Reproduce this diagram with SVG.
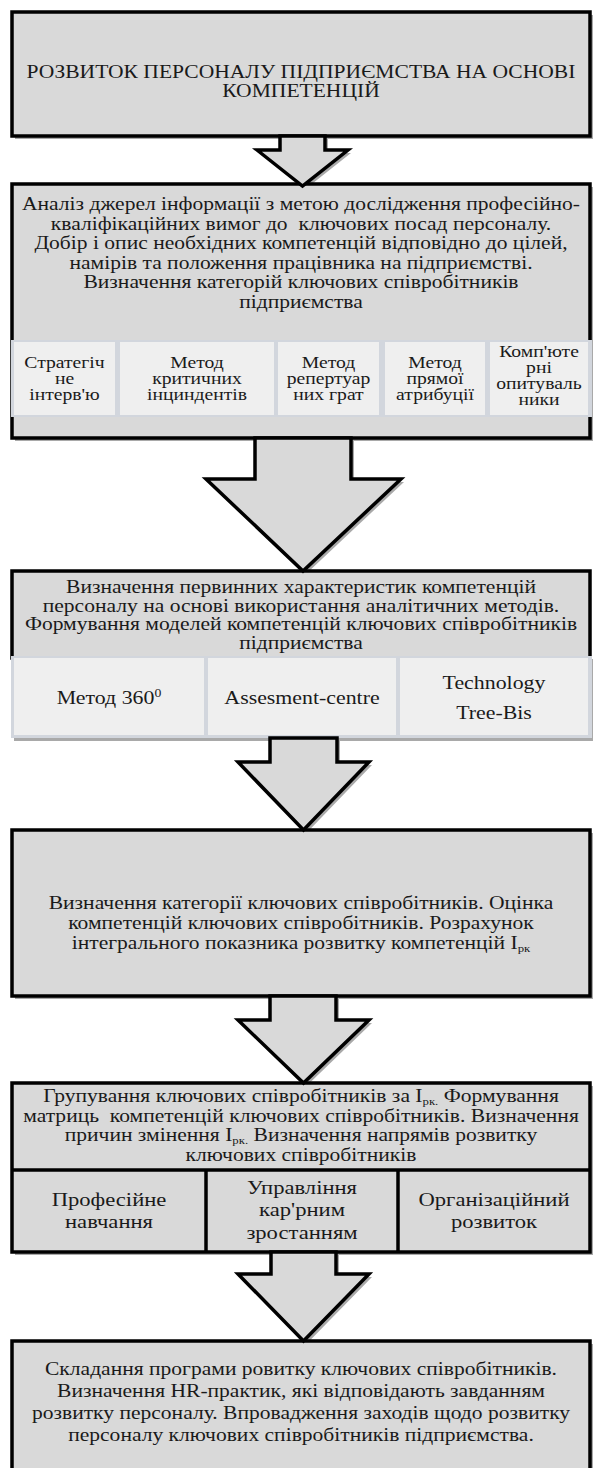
<svg xmlns="http://www.w3.org/2000/svg" width="593" height="1468" viewBox="0 0 593 1468">
<style>
.box{fill:#d9d9d9;stroke:#000;stroke-width:3.5}
.sh{fill:#8c8c8c;opacity:.75}
.t{font-family:"Liberation Serif","Times New Roman",serif;font-size:18.5px;fill:#1a1a1a;text-anchor:middle}
.c{font-size:16.5px}
.m{font-size:19px}
.k{font-size:19.5px}
.sub{font-size:11px}
.row{fill:#d2d6dd}
.cell{fill:#efefef}
.arr{fill:#d9d9d9;stroke:#000;stroke-width:3.5;stroke-linejoin:miter}
.div{stroke:#000;stroke-width:3.5}
</style>
<rect width="593" height="1468" fill="#fff"/>

<g id="shadows">
<rect class="sh" x="15" y="15" width="578" height="124"/>
<rect class="sh" x="15" y="187" width="578" height="254"/>
<rect class="sh" x="14" y="659" width="579" height="82"/>
<rect class="sh" x="15" y="833" width="578" height="166"/>
<rect class="sh" x="15" y="1086" width="578" height="169"/>
<rect class="sh" x="15" y="1344" width="578" height="140"/>
<polygon class="sh" points="283,139 328,139 328,153 351,153 305.5,189 260,153 283,153"/>
<polygon class="sh" points="258,441 354,441 354,482 404,482 306,574 209,482 258,482"/>
<polygon class="sh" points="273,741 340,741 340,765 372,765 306.5,833 241,765 273,765"/>
<polygon class="sh" points="273,999 339,999 339,1023 372,1023 306.5,1086 241,1023 273,1023"/>
<polygon class="sh" points="274,1255 339,1255 339,1277 372,1277 306.5,1344 241,1277 274,1277"/>
</g>

<g id="node1">
<rect class="box" x="12" y="12" width="578" height="124"/>
<text class="t" transform="translate(301,78) scale(1.165,1)">РОЗВИТОК ПЕРСОНАЛУ ПІДПРИЄМСТВА НА ОСНОВІ</text>
<text class="t" transform="translate(301,97) scale(1.165,1)">КОМПЕТЕНЦІЙ</text>
</g>

<g id="node2">
<rect class="box" x="12" y="184" width="578" height="254"/>
<text class="t" transform="translate(301,210) scale(1.165,1)">Аналіз джерел інформації з метою дослідження професійно-</text>
<text class="t" transform="translate(301,229.5) scale(1.165,1)">кваліфікаційних вимог до&#160; ключових посад персоналу.</text>
<text class="t" transform="translate(301,249) scale(1.165,1)">Добір і опис необхідних компетенцій відповідно до цілей,</text>
<text class="t" transform="translate(301,268.5) scale(1.165,1)">намірів та положення працівника на підприємстві.</text>
<text class="t" transform="translate(301,288) scale(1.165,1)">Визначення категорій ключових співробітників</text>
<text class="t" transform="translate(301,307.5) scale(1.165,1)">підприємства</text>
<rect class="row" x="11" y="340" width="581" height="77"/>
<g id="node2-cells">
<rect class="cell" x="14" y="342" width="101" height="73"/>
<rect class="cell" x="120" y="342" width="154" height="73"/>
<rect class="cell" x="278" y="342" width="101" height="73"/>
<rect class="cell" x="385" y="342" width="100" height="73"/>
<rect class="cell" x="490" y="342" width="98" height="73"/>
<text class="t c" transform="translate(64.5,368) scale(1.19,1)">Стратегіч</text>
<text class="t c" transform="translate(64.5,384) scale(1.19,1)">не</text>
<text class="t c" transform="translate(64.5,400) scale(1.19,1)">інтерв'ю</text>
<text class="t c" transform="translate(197,368) scale(1.19,1)">Метод</text>
<text class="t c" transform="translate(197,384) scale(1.19,1)">критичних</text>
<text class="t c" transform="translate(197,400) scale(1.19,1)">інциндентів</text>
<text class="t c" transform="translate(328.5,368) scale(1.19,1)">Метод</text>
<text class="t c" transform="translate(328.5,384) scale(1.19,1)">репертуар</text>
<text class="t c" transform="translate(328.5,400) scale(1.19,1)">них грат</text>
<text class="t c" transform="translate(435,368) scale(1.19,1)">Метод</text>
<text class="t c" transform="translate(435,384) scale(1.19,1)">прямої</text>
<text class="t c" transform="translate(435,400) scale(1.19,1)">атрибуції</text>
<text class="t c" transform="translate(539,357) scale(1.19,1)">Комп'юте</text>
<text class="t c" transform="translate(539,373) scale(1.19,1)">рні</text>
<text class="t c" transform="translate(539,389) scale(1.19,1)">опитуваль</text>
<text class="t c" transform="translate(539,405) scale(1.19,1)">ники</text>
</g>
</g>

<g id="node3">
<rect class="box" x="12" y="571" width="578" height="87"/>
<text class="t" transform="translate(301,593) scale(1.165,1)">Визначення первинних характеристик компетенцій</text>
<text class="t" transform="translate(301,611.5) scale(1.165,1)">персоналу на основі використання аналітичних методів.</text>
<text class="t" transform="translate(301,630) scale(1.165,1)">Формування моделей компетенцій ключових співробітників</text>
<text class="t" transform="translate(301,648.5) scale(1.165,1)">підприємства</text>
<rect class="row" x="11" y="656" width="581" height="82"/>
<g id="node3-cells">
<rect class="cell" x="14" y="658" width="190" height="77"/>
<rect class="cell" x="208" y="658" width="188" height="77"/>
<rect class="cell" x="400" y="658" width="188" height="77"/>
<text class="t m" transform="translate(109,704) scale(1.15,1)">Метод 360<tspan font-size="12" dy="-7">0</tspan></text>
<text class="t m" transform="translate(302,704) scale(1.15,1)">Assesment-centre</text>
<text class="t m" transform="translate(494,689) scale(1.15,1)">Technology</text>
<text class="t m" transform="translate(494,719) scale(1.15,1)">Tree-Bis</text>
</g>
</g>

<g id="node4">
<rect class="box" x="12" y="830" width="578" height="166"/>
<text class="t" transform="translate(301,909) scale(1.165,1)">Визначення категорії ключових співробітників. Оцінка</text>
<text class="t" transform="translate(301,929) scale(1.165,1)">компетенцій ключових співробітників. Розрахунок</text>
<text class="t" transform="translate(301,949) scale(1.165,1)">інтегрального показника розвитку компетенцій I<tspan class="sub" dy="3">рк</tspan></text>
</g>

<g id="node5">
<rect class="box" x="12" y="1083" width="578" height="169"/>
<text class="t" transform="translate(301,1102) scale(1.165,1)">Групування ключових співробітників за I<tspan class="sub" dy="3">рк.</tspan><tspan dy="-3"> Формування</tspan></text>
<text class="t" transform="translate(301,1121.5) scale(1.165,1)">матриць&#160; компетенцій ключових співробітників. Визначення</text>
<text class="t" transform="translate(301,1141) scale(1.165,1)">причин змінення I<tspan class="sub" dy="3">рк.</tspan><tspan dy="-3"> Визначення напрямів розвитку</tspan></text>
<text class="t" transform="translate(301,1160.5) scale(1.165,1)">ключових співробітників</text>
<line class="div" x1="12" y1="1170" x2="590" y2="1170"/>
<line class="div" x1="206" y1="1170" x2="206" y2="1252"/>
<line class="div" x1="398" y1="1170" x2="398" y2="1252"/>
<text class="t k" transform="translate(109,1206) scale(1.16,1)">Професійне</text>
<text class="t k" transform="translate(109,1228) scale(1.16,1)">навчання</text>
<text class="t k" transform="translate(302,1194) scale(1.16,1)">Управління</text>
<text class="t k" transform="translate(302,1216) scale(1.16,1)">кар'рним</text>
<text class="t k" transform="translate(302,1239) scale(1.16,1)">зростанням</text>
<text class="t k" transform="translate(494,1206) scale(1.16,1)">Організаційний</text>
<text class="t k" transform="translate(494,1228) scale(1.16,1)">розвиток</text>
</g>

<g id="node6">
<rect class="box" x="12" y="1341" width="578" height="140"/>
<text class="t" transform="translate(301,1375) scale(1.165,1)">Складання програми ровитку ключових співробітників.</text>
<text class="t" transform="translate(301,1397) scale(1.165,1)">Визначення HR-практик, які відповідають завданням</text>
<text class="t" transform="translate(301,1419) scale(1.165,1)">розвитку персоналу. Впровадження заходів щодо розвитку</text>
<text class="t" transform="translate(301,1441) scale(1.165,1)">персоналу ключових співробітників підприємства.</text>
</g>

<g id="connectors">
<polygon class="arr" points="280,136 325,136 325,150 348,150 302.5,186 257,150 280,150"/>
<polygon class="arr" points="255,438 351,438 351,479 401,479 303,571 206,479 255,479"/>
<polygon class="arr" points="270,738 337,738 337,762 369,762 303.5,830 238,762 270,762"/>
<polygon class="arr" points="270,996 336,996 336,1020 369,1020 303.5,1083 238,1020 270,1020"/>
<polygon class="arr" points="271,1252 336,1252 336,1274 369,1274 303.5,1341 238,1274 271,1274"/>
</g>
</svg>
